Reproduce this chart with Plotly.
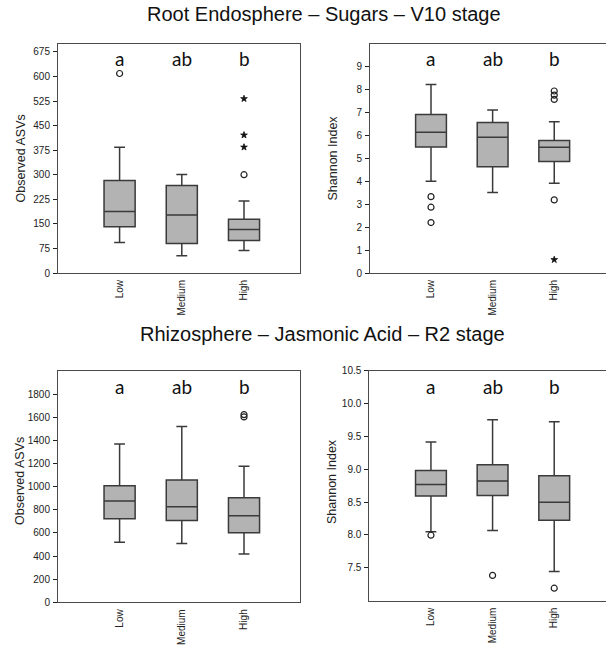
import plotly.graph_objects as go

categories = ["Low", "Medium", "High"]
letters = ["a", "ab", "b"]

# Panel 1: Root Endosphere - Sugars - Observed ASVs
p1_q1 = [141, 90, 99.5]
p1_med = [188, 177, 133]
p1_q3 = [282, 267, 164]
p1_lo = [93, 53, 69]
p1_hi = [384, 301, 220]
p1_out_circle_x = ["Low", "High"]
p1_out_circle_y = [609, 300]
p1_out_star_x = ["High", "High", "High"]
p1_out_star_y = [384, 421, 532]

# Panel 2: Root Endosphere - Sugars - Shannon
p2_q1 = [5.50, 4.64, 4.86]
p2_med = [6.14, 5.92, 5.49]
p2_q3 = [6.91, 6.57, 5.78]
p2_lo = [4.0, 3.51, 3.92]
p2_hi = [8.22, 7.11, 6.60]
p2_out_circle_x = ["Low", "Low", "Low", "High", "High", "High", "High"]
p2_out_circle_y = [3.33, 2.87, 2.2, 7.94, 7.76, 7.57, 3.19]
p2_out_star_x = ["High"]
p2_out_star_y = [0.58]

# Panel 3: Rhizosphere - Jasmonic Acid - Observed ASVs
p3_q1 = [724, 709, 603]
p3_med = [877, 828, 750]
p3_q3 = [1009, 1058, 906]
p3_lo = [519, 508, 418]
p3_hi = [1370, 1523, 1177]
p3_out_circle_x = ["High", "High"]
p3_out_circle_y = [1605, 1625]

# Panel 4: Rhizosphere - Jasmonic Acid - Shannon
p4_q1 = [8.595, 8.60, 8.225]
p4_med = [8.77, 8.82, 8.50]
p4_q3 = [8.98, 9.07, 8.90]
p4_lo = [8.05, 8.07, 7.445]
p4_hi = [9.415, 9.755, 9.725]
p4_out_circle_x = ["Low", "Medium", "High"]
p4_out_circle_y = [7.997, 7.385, 7.19]

titles = ["Root Endosphere – Sugars – V10 stage", "Rhizosphere – Jasmonic Acid – R2 stage"]

W, H = 606, 648
fig = go.Figure()

BOX_FILL = "#b3b3b3"
BOX_LINE = "#3a3a3a"
AX = "#4a4a4a"
TICKFONT = dict(family="Liberation Sans, Arial, sans-serif", size=10, color="#222")

panels = [
    dict(q1=p1_q1, med=p1_med, q3=p1_q3, lo=p1_lo, hi=p1_hi,
         cx=p1_out_circle_x, cy=p1_out_circle_y, sx=p1_out_star_x, sy=p1_out_star_y,
         xpx=(58, 300), ypx=(44, 273), yrange=[0, 699], tickvals=list(range(0, 700, 75)),
         ticktext=None, xrange=[-0.99, 2.9], title="Observed ASVs", tpx=(20, 158.5), lety=0.937),
    dict(q1=p2_q1, med=p2_med, q3=p2_q3, lo=p2_lo, hi=p2_hi,
         cx=p2_out_circle_x, cy=p2_out_circle_y, sx=p2_out_star_x, sy=p2_out_star_y,
         xpx=(370, 606), ypx=(44, 273), yrange=[0, 9.99], tickvals=list(range(0, 10)),
         ticktext=None, xrange=[-0.99, 2.84], title="Shannon Index", tpx=(332, 158.5), lety=0.937),
    dict(q1=p3_q1, med=p3_med, q3=p3_q3, lo=p3_lo, hi=p3_hi,
         cx=p3_out_circle_x, cy=p3_out_circle_y, sx=[], sy=[],
         xpx=(58, 300), ypx=(370.7, 602.3), yrange=[0, 2005], tickvals=list(range(0, 2000, 200)),
         ticktext=None, xrange=[-0.99, 2.9], title="Observed ASVs", tpx=(20, 481), lety=0.931),
    dict(q1=p4_q1, med=p4_med, q3=p4_q3, lo=p4_lo, hi=p4_hi,
         cx=p4_out_circle_x, cy=p4_out_circle_y, sx=[], sy=[],
         xpx=(369.3, 606), ypx=(370.7, 600.7), yrange=[7.0, 10.5],
         tickvals=[7.5, 8.0, 8.5, 9.0, 9.5, 10.0, 10.5],
         ticktext=["7.5", "8.0", "8.5", "9.0", "9.5", "10.0", "10.5"],
         xrange=[-1.0, 2.84], title="Shannon Index", tpx=(332, 482), lety=0.931),
]

layout_axes = {}
for i, p in enumerate(panels, start=1):
    xa = "x" if i == 1 else f"x{i}"
    ya = "y" if i == 1 else f"y{i}"
    fig.add_trace(go.Box(
        x=categories, q1=p["q1"], median=p["med"], q3=p["q3"],
        lowerfence=p["lo"], upperfence=p["hi"],
        fillcolor=BOX_FILL, line=dict(color=BOX_LINE, width=1.5),
        width=0.5, whiskerwidth=0.35, boxpoints=False,
        showlegend=False, hoverinfo="skip", xaxis=xa, yaxis=ya))
    if p["cx"]:
        fig.add_trace(go.Scatter(
            x=p["cx"], y=p["cy"], mode="markers",
            marker=dict(symbol="circle-open", size=6, color="#222", line=dict(width=1.2)),
            showlegend=False, hoverinfo="skip", xaxis=xa, yaxis=ya))
    if p["sx"]:
        fig.add_trace(go.Scatter(
            x=p["sx"], y=p["sy"], mode="markers",
            marker=dict(symbol="star", size=5, color="#111", line=dict(width=0.8, color="#111")),
            showlegend=False, hoverinfo="skip", xaxis=xa, yaxis=ya))
    xd = [p["xpx"][0] / W, min(1.0, p["xpx"][1] / W)]
    yd = [1 - p["ypx"][1] / H, 1 - p["ypx"][0] / H]
    xkey = "xaxis" if i == 1 else f"xaxis{i}"
    ykey = "yaxis" if i == 1 else f"yaxis{i}"
    layout_axes[xkey] = dict(
        domain=xd, anchor=ya, type="category", categoryorder="array", categoryarray=categories,
        range=p["xrange"], showgrid=False, zeroline=False, showline=True, mirror=True,
        linecolor=AX, linewidth=1, ticks="", tickangle=-90, tickfont=TICKFONT, ticklabelstandoff=2,
        automargin=False)
    yax = dict(
        domain=yd, anchor=xa, range=p["yrange"], tickvals=p["tickvals"], showgrid=False,
        zeroline=False, showline=True, mirror=True, linecolor=AX, linewidth=1,
        ticks="outside", ticklen=4, tickcolor="#222", tickfont=TICKFONT, ticklabelstandoff=1,
        automargin=False)
    if p["ticktext"]:
        yax["ticktext"] = p["ticktext"]
    layout_axes[ykey] = yax

fig.update_layout(template="none")
fig.update_layout(**layout_axes)

annotations = []
for i, p in enumerate(panels, start=1):
    xa = "x" if i == 1 else f"x{i}"
    ya = "y" if i == 1 else f"y{i}"
    for c, l in zip(categories, letters):
        annotations.append(dict(
            x=c, y=p["lety"], xref=xa, yref=f"{ya} domain", text=l, showarrow=False,
            font=dict(family="Lato, Open Sans, sans-serif", size=19, color="#111"),
            xanchor="center", yanchor="middle"))
    annotations.append(dict(
        x=p["tpx"][0] / W, y=1 - p["tpx"][1] / H, xref="paper", yref="paper",
        text=p["title"], textangle=-90, showarrow=False,
        font=dict(family="Liberation Sans, Arial, sans-serif", size=12.5, color="#222"),
        xanchor="center", yanchor="middle"))

annotations.append(dict(x=324 / W, y=1 - 14 / H, xref="paper", yref="paper", text=titles[0],
                        showarrow=False, xanchor="center", yanchor="middle",
                        font=dict(family="Liberation Sans, Arial, sans-serif", size=20, color="#111")))
annotations.append(dict(x=322 / W, y=1 - 334 / H, xref="paper", yref="paper", text=titles[1],
                        showarrow=False, xanchor="center", yanchor="middle",
                        font=dict(family="Liberation Sans, Arial, sans-serif", size=20, color="#111")))

fig.update_layout(
    width=W, height=H, margin=dict(l=0, r=0, t=0, b=0, autoexpand=False),
    paper_bgcolor="white", plot_bgcolor="white",
    annotations=annotations, showlegend=False)

fig.write_html("out.html", config={"displayModeBar": False},
               post_script="document.body.style.margin='0px';document.body.style.overflow='hidden';")
